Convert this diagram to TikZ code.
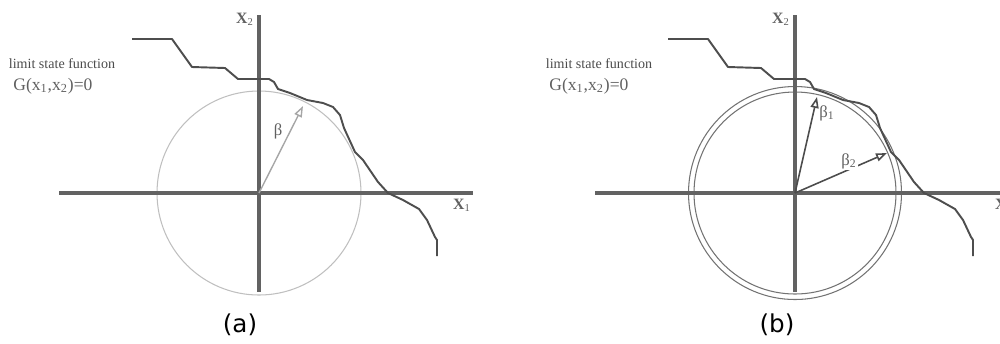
\documentclass[tikz,border=0pt]{standalone}
\usepackage{fontspec}
\setmainfont{Liberation Serif}
\newfontfamily\capfont{DejaVu Sans}
\usetikzlibrary{arrows.meta,positioning}
\definecolor{axisgrey}{HTML}{626262}
\definecolor{curvegrey}{HTML}{4E4E4E}
\definecolor{textgrey}{HTML}{606060}
\tikzset{
  axisline/.style={line width=2pt, draw=axisgrey},
  lsfline/.style={line width=1.1pt, draw=curvegrey, line join=round},
  axlbl/.style={inner sep=1pt, font=\fontsize{9}{10}\selectfont, text=textgrey},
  caplbl/.style={inner sep=0pt, font=\capfont\fontsize{14}{16}\selectfont}
}
% limit state curve, x relative to the x2 axis
\newcommand{\lsfcurve}[1]{%
  \draw[lsfline, shift={(#1,0)}] (-127,39) -- (-87,39) -- (-67,67) -- (-34,68) -- (-21,79)
    -- (4,79) -- (10,79) -- (15,82) -- (19,89) -- (31,93) -- (48,100) -- (64,103) -- (74,107)
    -- (81,115) -- (85,128) -- (96,152) -- (104,160) -- (119,182) -- (129,193) -- (144,200)
    -- (160,209) -- (168,220) -- (176,237) -- (178,240) -- (178,256);}

\begin{document}
\begin{tikzpicture}[
    x=0.02cm, y=-0.02cm,
    ringa/.style={draw=black!25, line width=0.6pt},
    ringb/.style={draw=black!55, line width=0.6pt},
    betaa/.style={-{Triangle[open, length=2.2mm, width=1.6mm]}, draw=black!35, line width=0.8pt},
    betab/.style={-{Triangle[open, length=2.2mm, width=1.6mm]}, draw=black!70, line width=0.9pt},
    blbl/.style={inner sep=1pt, font=\fontsize{9.5}{11}\selectfont, text=textgrey}
  ]
  \useasboundingbox (0,0) rectangle (1000,343);

  % (a)
  \coordinate (Oa) at (259,193);
  \coordinate (aTop) at (259,15);
  \coordinate (aBot) at (259,292);
  \coordinate (aLeft) at (59,193);
  \coordinate (aRight) at (473,193);
  \draw[ringa] (Oa) circle[radius=102];
  \draw[axisline] (aLeft) -- (aRight);
  \draw[axisline] (aTop) -- (aBot);
  \lsfcurve{259}
  \coordinate (Ba) at (303,106);
  \draw[betaa] (Oa) -- (Ba);
  \node[blbl] (beta) at (278,131) {β};
  \node[axlbl] (x2a) at (245,19) {\textbf{X}\textsubscript{2}};
  \node[axlbl] (x1a) at (462,205) {\textbf{X}\textsubscript{1}};
  \node[inner sep=0pt, font=\fontsize{8}{10}\selectfont, text=black!70] (lsfa) at (62,64) {limit state function};
  \node[inner sep=0pt, anchor=west, font=\fontsize{10}{12}\selectfont, text=textgrey] (ga) at (13,86) {G(x\textsubscript{1},x\textsubscript{2})=0};
  \node[caplbl] (capa) at (240,325) {(a)};

  % (b)
  \coordinate (Ob) at (795,193);
  \coordinate (bTop) at (795,15);
  \coordinate (bBot) at (795,292);
  \coordinate (bLeft) at (595,193);
  \coordinate (bRight) at (1000,193);
  \draw[ringb] (Ob) circle[radius=106.5];
  \draw[ringb] (Ob) circle[radius=101];
  \draw[axisline] (bLeft) -- (bRight);
  \draw[axisline] (bTop) -- (bBot);
  \lsfcurve{795}
  \coordinate (B1) at (817,97);
  \coordinate (B2) at (887,153);
  \draw[betab] (Ob) -- (B1);
  \draw[betab] (Ob) -- (B2);
  \node[blbl] (beta1) at (827,113) {β\textsubscript{1}};
  \node[blbl, fill=white] (beta2) at (849,161) {β\textsubscript{2}};
  \node[axlbl] (x2b) at (781,19) {\textbf{X}\textsubscript{2}};
  \node[axlbl, anchor=west] (x1b) at (993,205) {\textbf{X}\textsubscript{1}};
  \node[inner sep=0pt, font=\fontsize{8}{10}\selectfont, text=black!70] (lsfb) at (599,64) {limit state function};
  \node[inner sep=0pt, anchor=west, font=\fontsize{10}{12}\selectfont, text=textgrey] (gb) at (549,86) {G(x\textsubscript{1},x\textsubscript{2})=0};
  \node[caplbl] (capb) at (777,325) {(b)};
\end{tikzpicture}
\end{document}
